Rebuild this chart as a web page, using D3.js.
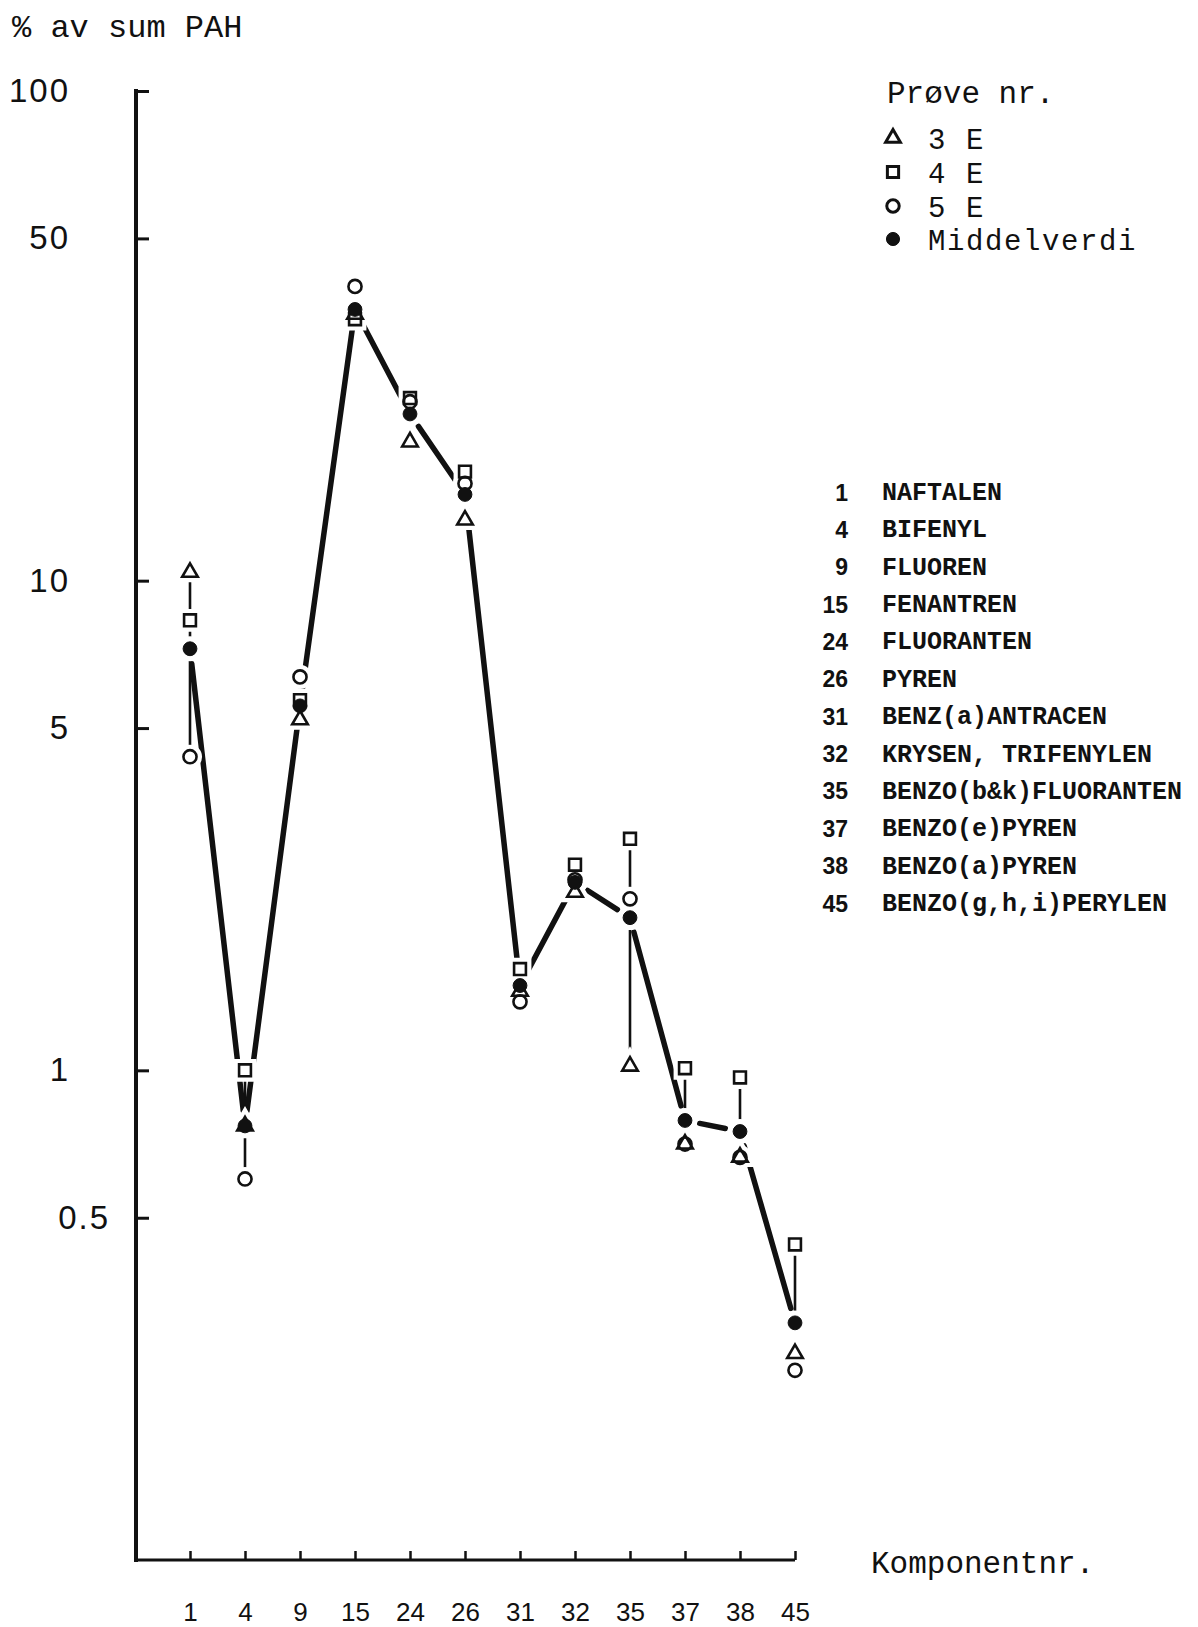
<!DOCTYPE html>
<html>
<head>
<meta charset="utf-8">
<script src="https://cdn.jsdelivr.net/npm/d3@7/dist/d3.min.js"></script>
<style>
    body { margin: 0; background: #fff; }
    svg { display: block; }
    .mono { font-family: "Liberation Mono", "Courier New", monospace; fill: #111; }
    .sans { font-family: "Liberation Sans", Arial, sans-serif; fill: #111; }
</style>
</head>
<body>
<div id="chart"></div>
<script>
// Komponentnr. and names
var components = ["1", "4", "9", "15", "24", "26", "31", "32", "35", "37", "38", "45"];
var names = ["NAFTALEN", "BIFENYL", "FLUOREN", "FENANTREN", "FLUORANTEN", "PYREN",
    "BENZ(a)ANTRACEN", "KRYSEN, TRIFENYLEN", "BENZO(b&k)FLUORANTEN",
    "BENZO(e)PYREN", "BENZO(a)PYREN", "BENZO(g,h,i)PERYLEN"];

// % av sum PAH, per sample
var sample3E = [10.4, 0.77, 5.2, 35.0, 19.2, 13.3, 1.45, 2.31, 1.02, 0.707, 0.665, 0.264];
var sample4E = [8.3, 1.0, 5.7, 34.2, 23.6, 16.7, 1.61, 2.63, 2.97, 1.01, 0.967, 0.441];
var sample5E = [4.37, 0.60, 6.36, 39.9, 23.2, 15.8, 1.38, 2.45, 2.24, 0.707, 0.664, 0.244];
var mean = [7.26, 0.77, 5.55, 35.8, 21.9, 15.0, 1.49, 2.42, 2.05, 0.79, 0.75, 0.305];

// which spread bar is drawn: full = max..min, upper = max..mean
var spreadBar = ["full", "full", "full", "none", "none", "none", "none", "none", "full", "upper", "upper", "upper"];

var yTicks = [100, 50, 10, 5, 1, 0.5];
var yTickLabels = ["100", "50", "10", "5", "1", "0.5"];

var legendLabels = ["3 E", "4 E", "5 E", "Middelverdi"];

(function (d3) {
    "use strict";

    var W = 1198, H = 1627;
    var ink = "#111";

    var svg = d3.select("#chart").append("svg")
        .attr("width", W)
        .attr("height", H);

    svg.append("rect").attr("width", W).attr("height", H).attr("fill", "#fff");

    // scales
    var axisX = 136, axisY = 1560, axisTop = 91;
    var x = d3.scalePoint().domain(components).range([190, 795]);
    var y = d3.scaleLog().domain([0.1, 100]).range([axisY, axisTop]);

    // ---------------- axes ----------------
    var yAxis = d3.axisLeft(y)
        .tickValues(yTicks)
        .tickSize(-13)
        .tickPadding(66)
        .tickFormat(function (d, i) { return yTickLabels[i]; });

    var gy = svg.append("g")
        .attr("transform", "translate(" + axisX + ",0)")
        .call(yAxis);
    gy.select(".domain").remove();
    gy.selectAll(".tick line").attr("stroke", ink).attr("stroke-width", 3);
    gy.selectAll(".tick text")
        .attr("class", "sans")
        .style("font-size", "33px")
        .style("letter-spacing", "2px")
        .attr("dx", function (d) { return d < 1 ? 40 : 0; });

    var xAxis = d3.axisBottom(x).tickSize(-9).tickPadding(0);
    var gx = svg.append("g")
        .attr("transform", "translate(0," + axisY + ")")
        .call(xAxis);
    gx.select(".domain").remove();
    gx.selectAll(".tick line").attr("stroke", ink).attr("stroke-width", 2.5);
    gx.selectAll(".tick text")
        .attr("class", "sans")
        .attr("y", 61)
        .attr("dy", 0)
        .style("font-size", "26px");

    // axis lines
    svg.append("line")
        .attr("x1", axisX).attr("x2", axisX)
        .attr("y1", axisTop - 2).attr("y2", axisY + 2)
        .attr("stroke", ink).attr("stroke-width", 4);
    svg.append("line")
        .attr("x1", axisX).attr("x2", x(components[components.length - 1]))
        .attr("y1", axisY).attr("y2", axisY)
        .attr("stroke", ink).attr("stroke-width", 3);

    // titles
    svg.append("text").attr("class", "mono")
        .attr("x", 12).attr("y", 37)
        .style("font-size", "32px")
        .text("% av sum PAH");
    svg.append("text").attr("class", "mono")
        .attr("x", 871).attr("y", 1573)
        .style("font-size", "31px")
        .text("Komponentnr.");

    // ---------------- marks ----------------
    var plot = svg.append("g");

    // thin spread bars
    components.forEach(function (c, i) {
        if (spreadBar[i] === "none") return;
        var vals = [sample3E[i], sample4E[i], sample5E[i]];
        var hi = d3.max(vals);
        var lo = spreadBar[i] === "upper" ? mean[i] : d3.min(vals);
        plot.append("line")
            .attr("x1", x(c)).attr("x2", x(c))
            .attr("y1", y(hi)).attr("y2", y(lo))
            .attr("stroke", ink).attr("stroke-width", 2.6);
    });

    // thick mean line, broken near the points
    var gap = 15;
    for (var i = 0; i < components.length - 1; i++) {
        var x0 = x(components[i]), y0 = y(mean[i]);
        var x1 = x(components[i + 1]), y1 = y(mean[i + 1]);
        var len = Math.sqrt((x1 - x0) * (x1 - x0) + (y1 - y0) * (y1 - y0));
        var ux = (x1 - x0) / len, uy = (y1 - y0) / len;
        plot.append("line")
            .attr("x1", x0 + ux * gap).attr("y1", y0 + uy * gap)
            .attr("x2", x1 - ux * gap).attr("y2", y1 - uy * gap)
            .attr("stroke", ink).attr("stroke-width", 5.5)
            .attr("stroke-linecap", "round");
    }

    var series = [
        { name: "3E", values: sample3E, shape: d3.symbolTriangle, size: 105, filled: false },
        { name: "4E", values: sample4E, shape: d3.symbolSquare, size: 140, filled: false },
        { name: "5E", values: sample5E, shape: d3.symbolCircle, size: 135, filled: false },
        { name: "mean", values: mean, shape: d3.symbolCircle, size: 150, filled: true }
    ];

    var points = [];
    series.forEach(function (s) {
        s.values.forEach(function (v, i) {
            points.push({ s: s, cx: x(components[i]), cy: y(v) });
        });
    });

    // white halo first so lines break around the markers
    plot.selectAll("path.halo")
        .data(points)
        .enter().append("path")
        .attr("class", "halo")
        .attr("transform", function (d) { return "translate(" + d.cx + "," + d.cy + ")"; })
        .attr("d", function (d) { return d3.symbol().type(d.s.shape).size(d.s.size)(); })
        .attr("fill", "#fff")
        .attr("stroke", "#fff")
        .attr("stroke-width", 11);

    plot.selectAll("path.mark")
        .data(points)
        .enter().append("path")
        .attr("class", "mark")
        .attr("transform", function (d) { return "translate(" + d.cx + "," + d.cy + ")"; })
        .attr("d", function (d) { return d3.symbol().type(d.s.shape).size(d.s.size)(); })
        .attr("fill", function (d) { return d.s.filled ? ink : "none"; })
        .attr("stroke", ink)
        .attr("stroke-width", function (d) { return d.s.filled ? 1 : 2.6; });

    // ---------------- legend ----------------
    var legend = svg.append("g").attr("transform", "translate(893,0)");
    legend.append("text").attr("class", "mono")
        .attr("x", -6).attr("y", 103)
        .style("font-size", "31px")
        .text("Prøve nr.");

    var legendRows = [138, 172, 206, 239];
    series.forEach(function (s, i) {
        var row = legend.append("g").attr("transform", "translate(0," + legendRows[i] + ")");
        row.append("path")
            .attr("d", d3.symbol().type(s.shape).size(s.size * 0.9)())
            .attr("fill", s.filled ? ink : "none")
            .attr("stroke", ink)
            .attr("stroke-width", s.filled ? 1 : 3);
        row.append("text").attr("class", "mono")
            .attr("x", 35).attr("y", 11)
            .style("font-size", "29px")
            .style("letter-spacing", "1.6px")
            .text(legendLabels[i]);
    });

    // ---------------- component list ----------------
    var rowY = d3.scalePoint().domain(components).range([492, 903]);
    var list = svg.append("g");
    components.forEach(function (c, i) {
        list.append("text").attr("class", "sans")
            .attr("x", 848).attr("y", rowY(c) + 8.5)
            .attr("text-anchor", "end")
            .style("font-size", "23px")
            .style("font-weight", "bold")
            .text(c);
        list.append("text").attr("class", "mono")
            .attr("x", 882).attr("y", rowY(c) + 8)
            .style("font-size", "25px")
            .style("font-weight", "bold")
            .text(names[i]);
    });

})(d3);
</script>
</body>
</html>
